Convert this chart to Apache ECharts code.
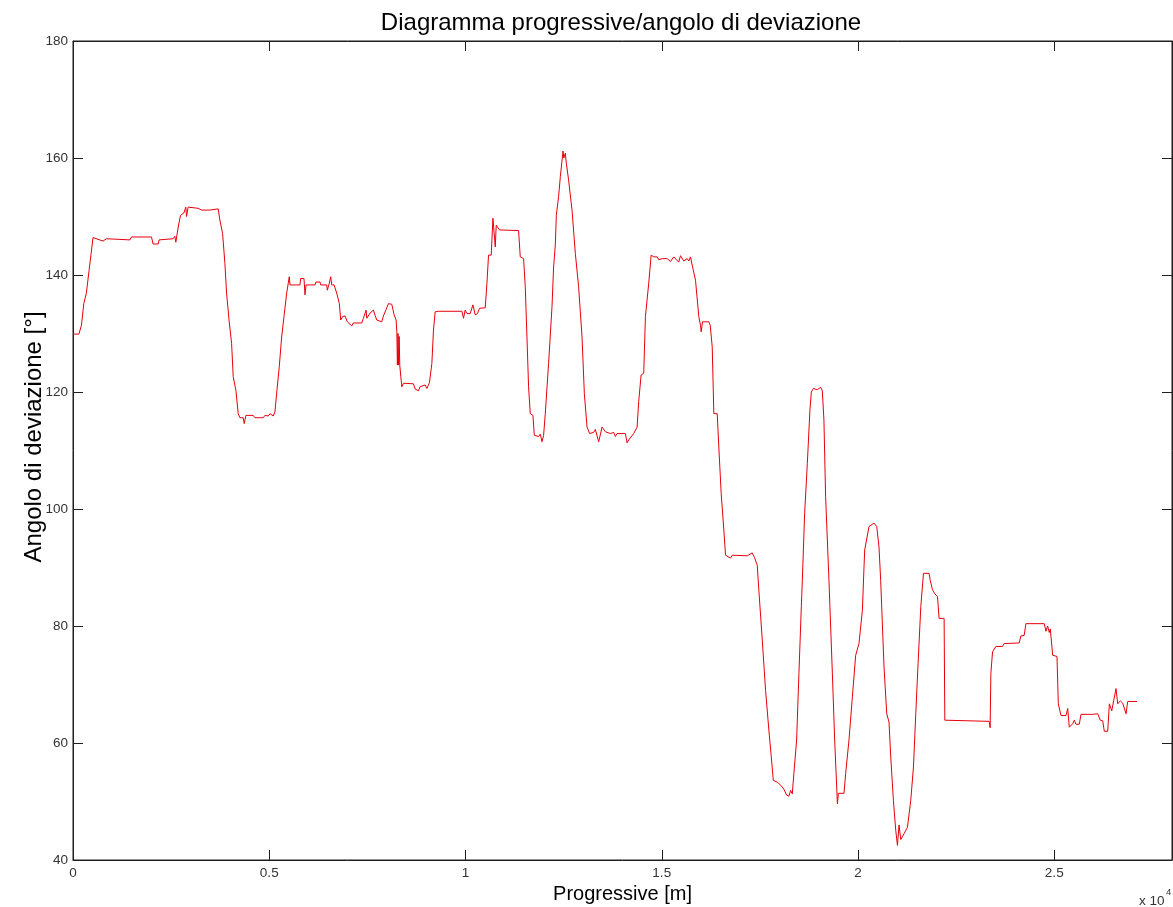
<!DOCTYPE html>
<html>
<head>
<meta charset="utf-8">
<script src="https://cdn.jsdelivr.net/npm/echarts@6/dist/echarts.min.js"></script>
<style>
html,body{margin:0;padding:0;background:#fff;}
#chart{width:1173px;height:907px;}
</style>
</head>
<body>
<div id="chart"></div>
<script>
const titolo = 'Diagramma progressive/angolo di deviazione';
const xNome = 'Progressive [m]';
const yNome = 'Angolo di deviazione [°]';
const xTickStep = 5000;
const xMax = 28000;
const yTicks = [40, 60, 80, 100, 120, 140, 160, 180];

const progressiva = [0,150,215,275,340,410,510,765,850,1450,1490,2000,2040,2170,2195,2550,2594,2620,2680,2740,2824,2875,2893,2934,3189,3232,3276,3487,3531,3699,3742,3811,3870,3913,3980,4015,4041,4082,4150,4209,4252,4337,4362,4406,4592,4635,4847,4890,4974,5018,5102,5145,5189,5255,5316,5375,5444,5510,5528,5783,5801,5885,5911,5936,6166,6191,6293,6311,6464,6480,6531,6566,6592,6651,6719,6786,6821,6872,6931,6990,7102,7143,7357,7398,7467,7485,7569,7653,7696,7740,7867,7908,7977,8036,8061,8122,8181,8232,8250,8265,8280,8295,8310,8325,8352,8378,8420,8674,8717,8801,8844,8972,9015,9082,9143,9184,9227,9312,9908,9949,9992,10036,10120,10189,10247,10306,10357,10503,10546,10587,10655,10699,10732,10758,10783,10816,10867,11352,11395,11480,11523,11566,11607,11650,11718,11753,11863,11906,11949,11990,12033,12117,12204,12245,12288,12314,12372,12416,12485,12505,12543,12569,12627,12714,12798,12882,12969,13028,13097,13163,13265,13308,13393,13480,13564,13691,13775,13819,13862,14074,14117,14158,14285,14372,14413,14474,14541,14584,14627,14668,14730,14796,14883,14924,15010,15051,15138,15222,15306,15433,15477,15561,15648,15689,15732,15775,15860,15944,15987,16005,16038,16199,16235,16286,16327,16413,16454,16480,16515,16582,16625,16752,16796,16837,17178,17219,17305,17364,17433,17474,17561,17645,17729,17791,17842,17944,18028,18112,18181,18240,18283,18326,18367,18436,18495,18556,18582,18640,18709,18775,18811,18862,18964,19048,19091,19132,19175,19260,19347,19406,19457,19475,19500,19643,19686,19770,19857,19941,20025,20112,20153,20171,20280,20408,20477,20535,20578,20663,20732,20790,20834,20902,20961,21005,21046,21089,21173,21260,21344,21413,21472,21531,21600,21668,21811,21837,21898,21957,22026,22066,22194,22212,23342,23367,23385,23428,23512,23683,23724,24107,24150,24234,24278,24745,24789,24832,24873,24899,24960,25070,25103,25172,25299,25343,25383,25470,25510,25554,25638,25681,25980,26021,26107,26173,26235,26275,26362,26404,26465,26516,26574,26617,26684,26745,26786,26829,26872,27109];

const angolo = [129.9,129.9,131.4,135.1,136.9,140.8,146.4,145.8,146.2,146.0,146.5,146.5,145.3,145.3,146.0,146.2,146.6,145.6,148.2,150.2,150.6,151.6,150.0,151.6,151.4,151.7,151.1,151.1,151.4,151.3,149.4,147.1,142.0,136.9,132.0,131.8,128.3,122.6,120.3,116.3,115.6,115.6,114.6,116.0,116.0,115.6,115.6,116.0,115.9,116.3,115.9,116.6,119.8,124.3,129.4,132.9,136.9,139.7,138.3,138.3,139.4,139.4,136.6,138.3,138.3,138.8,138.8,138.3,138.3,137.4,138.6,139.7,138.3,138.3,136.9,135.1,132.3,132.9,133.0,132.0,131.3,131.8,131.8,132.6,134.0,132.6,133.5,134.0,133.1,132.3,132.0,133.0,134.1,135.1,135.2,135.0,133.2,132.3,130.3,124.6,130.0,124.6,129.5,124.6,122.6,120.9,121.5,121.4,120.5,120.2,120.9,121.2,120.6,121.6,124.9,130.6,133.7,133.8,133.8,132.6,134.0,133.4,133.4,134.9,133.2,133.4,134.3,134.4,138.6,143.4,143.4,149.7,149.7,144.8,148.5,148.5,147.7,147.6,143.1,142.8,138.0,129.4,120.9,116.3,116.0,112.6,112.4,112.8,111.5,112.6,116.3,124.9,134.6,141.4,145.1,150.2,153.4,156.8,161.2,160.0,160.8,159.1,156.2,151.1,143.7,138.0,129.4,119.7,114.0,112.9,113.1,113.6,111.5,114.0,113.2,112.9,113.1,112.4,112.9,112.9,111.3,111.8,112.9,114.0,118.4,122.9,123.2,132.9,133.2,138.6,143.4,143.1,143.1,142.6,142.8,143.1,142.8,142.3,143.1,142.2,143.3,142.4,142.8,142.4,143.1,141.7,139.1,132.9,131.4,130.3,132.0,132.0,131.4,127.7,116.3,116.3,110.6,107.2,102.6,96.4,92.1,91.6,92.1,91.9,92.0,92.3,92.5,91.7,90.4,86.1,77.6,69.0,62.2,57.6,53.6,53.3,52.8,52.1,51.1,50.9,51.9,51.3,54.8,60.5,71.9,83.3,87.8,99.2,107.8,116.9,120.0,120.6,120.4,120.8,120.2,115.2,102.1,87.8,71.9,60.5,52.5,49.6,51.4,51.4,54.8,60.5,67.9,75.0,77.0,82.7,90.1,93.0,97.0,97.6,97.0,93.5,87.8,73.0,65.0,63.6,57.6,50.2,45.1,42.5,46.0,43.5,44.5,45.6,50.2,55.9,65.0,73.6,83.3,89.0,89.0,87.9,86.2,85.5,85.0,81.3,81.3,63.9,63.7,62.6,71.9,75.6,76.5,76.5,77.0,77.1,78.3,78.4,80.4,80.4,79.1,80.0,78.9,79.5,75.0,74.8,66.7,64.7,64.7,65.9,62.7,63.3,63.9,63.2,63.2,64.9,64.9,65.2,65.0,63.9,63.8,62.0,62.0,66.7,65.5,67.3,69.3,66.7,67.2,66.8,67.0,65.0,67.1,67.1];

const FONT = "'Liberation Sans', Arial, Helvetica, sans-serif";
const AX = '#1e1e1e';
const yMin = yTicks[0], yMax = yTicks[yTicks.length - 1], yStep = yTicks[1] - yTicks[0];

const chart = echarts.init(document.getElementById('chart'), null, {renderer: 'canvas'});
const punti = progressiva.map((x, i) => [x, angolo[i]]);

function baseX() {
  return {
    type: 'value', min: 0, max: xMax, interval: xTickStep,
    splitLine: {show: false},
    axisLine: {show: true, onZero: false, lineStyle: {color: AX, width: 1}},
    axisTick: {show: true, inside: true, length: 10, lineStyle: {color: AX, width: 1}}
  };
}
function baseY() {
  return {
    type: 'value', min: yMin, max: yMax, interval: yStep,
    splitLine: {show: false},
    axisLine: {show: true, onZero: false, lineStyle: {color: AX, width: 1}},
    axisTick: {show: true, inside: true, length: 10, lineStyle: {color: AX, width: 1}}
  };
}

chart.setOption({
  animation: false,
  backgroundColor: '#fff',
  title: {
    text: titolo, left: 621, textAlign: 'center', top: 11, padding: 0,
    textStyle: {fontFamily: FONT, fontSize: 24, fontWeight: 'normal', color: '#000'}
  },
  grid: {left: 73, right: 1, top: 41, bottom: 47, containLabel: false,
         outerBoundsMode: 'none',
         show: true, borderColor: AX, borderWidth: 1, backgroundColor: 'transparent'},
  xAxis: [
    Object.assign(baseX(), {
      position: 'bottom',
      name: xNome, nameLocation: 'middle', nameGap: 24, nameMoveOverlap: false,
      nameTextStyle: {fontFamily: FONT, fontSize: 20, color: '#000'},
      axisLabel: {
        show: true, margin: 6, showMaxLabel: false,
        fontFamily: FONT, fontSize: 13.5, color: '#333',
        formatter: v => String(v / 10000)
      }
    }),
    Object.assign(baseX(), {position: 'top', axisLabel: {show: false}})
  ],
  yAxis: [
    Object.assign(baseY(), {
      position: 'left',
      name: yNome, nameLocation: 'middle', nameGap: 27, nameMoveOverlap: false,
      nameTextStyle: {fontFamily: FONT, fontSize: 24, color: '#000', padding: [0, 0, 0, 27]},
      axisLabel: {show: true, margin: 5, fontFamily: FONT, fontSize: 13.5, color: '#333'}
    }),
    Object.assign(baseY(), {position: 'right', axisLabel: {show: false}})
  ],
  graphic: [
    {type: 'text', left: 1139, top: 894, style: {text: 'x 10', font: "13.5px " + FONT, fill: '#333'}},
    {type: 'text', left: 1166, top: 887, style: {text: '4', font: "9.5px " + FONT, fill: '#333'}}
  ],
  series: [{
    type: 'line',
    xAxisIndex: 0, yAxisIndex: 0,
    data: punti,
    showSymbol: false, symbol: 'none',
    lineStyle: {color: '#e8000b', width: 1},
    emphasis: {disabled: true}
  }]
});
</script>
</body>
</html>
